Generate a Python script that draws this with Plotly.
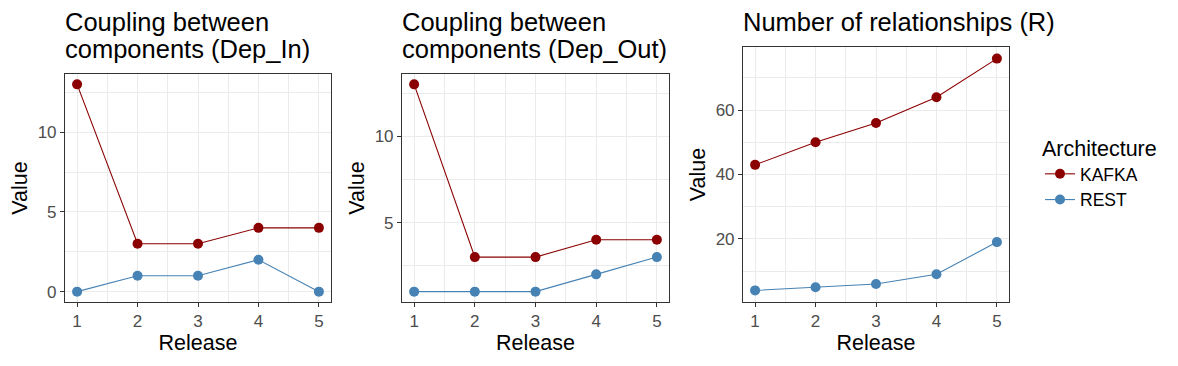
import plotly.graph_objects as go

# data
releases = [1, 2, 3, 4, 5]
dep_in_kafka = [13, 3, 3, 4, 4]
dep_in_rest = [0, 1, 1, 2, 0]
dep_out_kafka = [13, 3, 3, 4, 4]
dep_out_rest = [1, 1, 1, 2, 3]
rel_kafka = [43, 50, 56, 64, 76]
rel_rest = [4, 5, 6, 9, 19]

# each panel title, one entry per line
titles = [["Coupling between", "components (Dep_In)"],
          ["Coupling between", "components (Dep_Out)"],
          ["Number of relationships (R)"]]

KAFKA_COL = "#8B0000"
REST_COL = "#4682B4"
W, H = 1178, 366
FONT = "Liberation Sans, Arial, sans-serif"

# panel boxes in pixels (left, right, top, bottom)
panels = [(65, 331, 74, 302), (402, 669, 74, 302), (743, 1009, 47, 302)]
yranges = [[-0.65, 13.65], [0.4, 13.6], [0.4, 79.6]]
ydticks = [5, 5, 20]

fig = go.Figure()

data = [(dep_in_kafka, dep_in_rest), (dep_out_kafka, dep_out_rest), (rel_kafka, rel_rest)]
for i, (k, r) in enumerate(data):
    suffix = "" if i == 0 else str(i + 1)
    for name, vals, col in [("KAFKA", k, KAFKA_COL), ("REST", r, REST_COL)]:
        fig.add_trace(go.Scatter(
            x=releases, y=vals, name=name, mode="lines+markers",
            line=dict(color=col, width=1.1),
            marker=dict(color=col, size=10),
            xaxis="x" + suffix, yaxis="y" + suffix,
            legendgroup=name, showlegend=(i == 0),
        ))

layout = dict(
    width=W, height=H,
    margin=dict(l=0, r=0, t=0, b=0),
    plot_bgcolor="white", paper_bgcolor="white",
    font=dict(family=FONT, color="black"),
    legend=dict(
        title=dict(text="Architecture", font=dict(size=21.5, color="black")),
        font=dict(size=17.5, color="black"),
        x=1040 / W, y=1 - 128 / H, xanchor="left", yanchor="top",
        bgcolor="rgba(0,0,0,0)", tracegroupgap=0, itemwidth=30,
    ),
)

annotations = []
for i, (l, r, t, b) in enumerate(panels):
    suffix = "" if i == 0 else str(i + 1)
    axis_common = dict(
        showline=True, linecolor="#333333", linewidth=1.1, mirror=True,
        ticks="outside", ticklen=4, tickcolor="#333333", tickwidth=1.1,
        tickfont=dict(size=17, color="#4D4D4D"),
        showgrid=True, gridcolor="#EBEBEB", gridwidth=1.2,
        zeroline=False, fixedrange=True, automargin=False,
    )
    layout["xaxis" + suffix] = dict(
        axis_common,
        domain=[l / W, r / W], anchor="y" + suffix,
        range=[0.8, 5.2], tickvals=releases,
        minor=dict(dtick=0.5, tick0=0.5, showgrid=True, gridcolor="#EBEBEB", gridwidth=0.6, ticks=""),
        title=dict(text="Release", font=dict(size=21.5, color="black"), standoff=3),
    )
    layout["yaxis" + suffix] = dict(
        axis_common,
        domain=[1 - b / H, 1 - t / H], anchor="x" + suffix,
        range=yranges[i], dtick=ydticks[i], tick0=0,
        minor=dict(dtick=ydticks[i] / 2, tick0=0, showgrid=True, gridcolor="#EBEBEB", gridwidth=0.6, ticks=""),
        title=dict(text="Value", font=dict(size=21.5, color="black"), standoff=4),
    )
    for j, line in enumerate(titles[i]):
        annotations.append(dict(
            text=line, xref="paper", yref="paper",
            x=l / W - 2 / W, y=1 - (22 + 27 * j) / H, xanchor="left", yanchor="middle",
            align="left", showarrow=False,
            font=dict(size=25.5, color="black"),
        ))

layout["annotations"] = annotations
fig.update_layout(**layout)

# drop the browser's default 8px body margin so the figure sits at the page corner
fig.write_html("out.html", config={"displayModeBar": False},
               post_script="document.body.style.margin='0';")
